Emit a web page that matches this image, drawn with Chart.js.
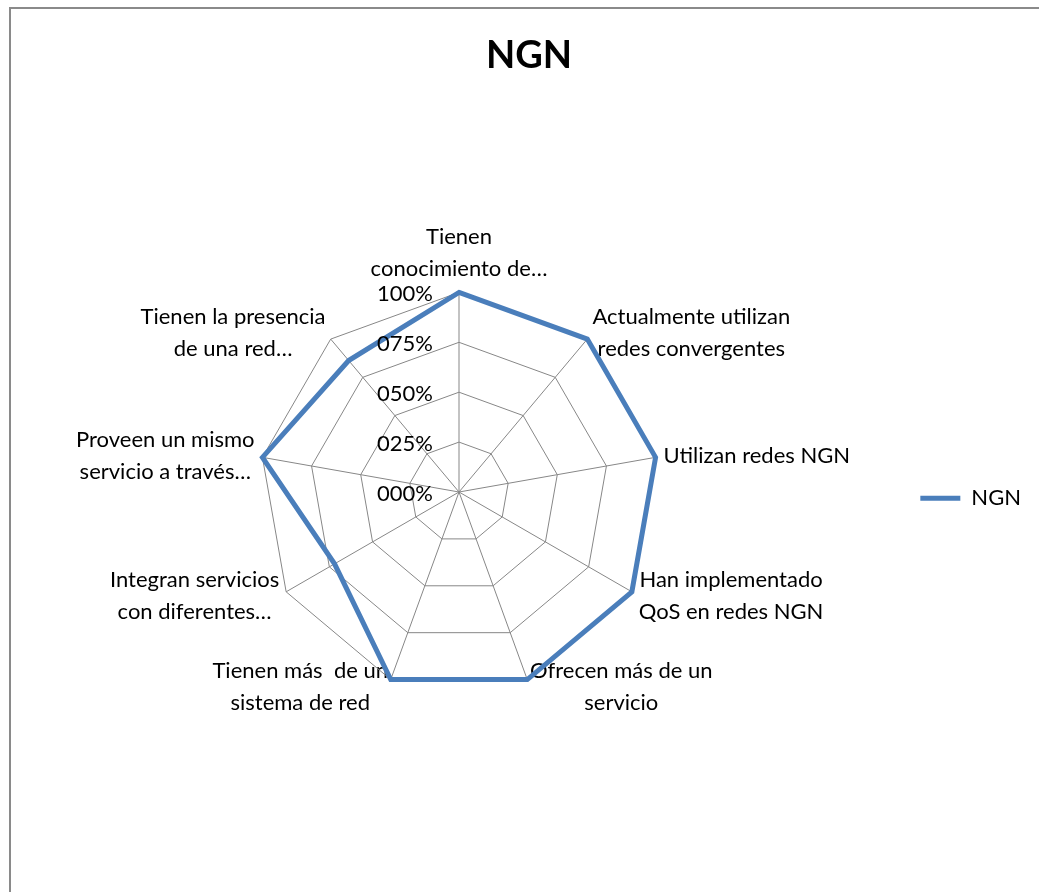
<!DOCTYPE html>
<html>
<head>
<meta charset="utf-8">
<script src="https://cdn.jsdelivr.net/npm/chart.js@4.4.1/dist/chart.umd.min.js"></script>
<style>
    body { margin: 0; background: #fff; overflow: hidden; }
    #frame {
        position: absolute; left: 9px; top: 7px;
        width: 1100px; height: 1000px;
        border: 2px solid #8a8a8a;
    }
    #myChart { position: absolute; left: 0; top: 0; }
</style>
</head>
<body>
<div id="frame"></div>
<canvas id="myChart" width="1039" height="892"></canvas>
<script>
// Chart data
const categories = [
    ['Tienen', 'conocimiento de…'],
    ['Actualmente utilizan', 'redes convergentes'],
    'Utilizan redes NGN',
    ['Han implementado', 'QoS en redes NGN'],
    ['Ofrecen más de un', 'servicio'],
    ['Tienen más  de un', 'sistema de red'],
    ['Integran servicios', 'con diferentes…'],
    ['Proveen un mismo', 'servicio a través…'],
    ['Tienen la presencia', 'de una red…']
];
const ngnValues = [1, 1, 1, 1, 1, 1, 0.72, 1, 0.86];
const tickValues = [0, 0.25, 0.5, 0.75, 1];

const FONT = 'Lato, "Open Sans", sans-serif';

function formatPercent(v) {
    return String(Math.round(v * 100)).padStart(3, '0') + '%';
}

// Tick labels sit to the left of the vertical axis, like the original
const tickLabelPlugin = {
    id: 'tickLabels',
    afterDatasetsDraw(chart) {
        const scale = chart.scales.r;
        const ctx = chart.ctx;
        ctx.save();
        ctx.font = '22px ' + FONT;
        ctx.fillStyle = '#000';
        ctx.textAlign = 'right';
        ctx.textBaseline = 'middle';
        tickValues.forEach(v => {
            const y = scale.yCenter - scale.getDistanceFromCenterForValue(v);
            ctx.fillText(formatPercent(v), scale.xCenter - 26, y + 2);
        });
        ctx.restore();
    }
};

// Side labels: centre the text block vertically on the spoke end, text centred
const labelAlignPlugin = {
    id: 'labelAlign',
    afterUpdate(chart) {
        const scale = chart.scales.r;
        const items = scale._pointLabelItems;
        if (!items) return;
        items.forEach((item, i) => {
            if (i === 0) return;
            const w = item.right - item.left;
            const h = item.bottom - item.top;
            const p = scale.getPointPosition(i, scale.drawingArea);
            const ax = p.x + 8 * Math.cos(p.angle);
            const ay = p.y + 8 * Math.sin(p.angle);
            const left = Math.cos(p.angle) >= 0 ? ax : ax - w;
            item.left = left;
            item.right = left + w;
            item.top = ay - h / 2;
            item.bottom = item.top + h;
            item.x = left + w / 2;
            item.y = item.top;
            item.textAlign = 'center';
        });
    }
};

document.addEventListener('DOMContentLoaded', function () {
    const ctx = document.getElementById('myChart').getContext('2d');
    new Chart(ctx, {
        type: 'radar',
        data: {
            labels: categories,
            datasets: [{
                label: 'NGN',
                data: ngnValues,
                borderColor: '#4a7ebb',
                backgroundColor: '#4a7ebb',
                borderWidth: 5,
                borderCapStyle: 'round',
                pointRadius: 0,
                pointHoverRadius: 0,
                fill: false
            }]
        },
        options: {
            responsive: false,
            animation: false,
            layout: {
                padding: { left: 27, right: 8, top: 0, bottom: 134 }
            },
            plugins: {
                title: {
                    display: true,
                    text: 'NGN',
                    color: '#000',
                    font: { family: FONT, size: 38, weight: 'bold' },
                    padding: { top: 33, bottom: 135 }
                },
                legend: {
                    position: 'right',
                    title: {
                        display: true,
                        text: ' ',
                        font: { size: 12 },
                        padding: { top: 224, bottom: 0 }
                    },
                    labels: {
                        usePointStyle: true,
                        pointStyle: 'line',
                        pointStyleWidth: 40,
                        color: '#000',
                        font: { family: FONT, size: 22 },
                        padding: 21
                    }
                },
                tooltip: { enabled: false }
            },
            scales: {
                r: {
                    min: 0,
                    max: 1,
                    ticks: { stepSize: 0.25, display: false },
                    grid: { color: '#878787', lineWidth: 1 },
                    angleLines: { color: '#878787', lineWidth: 1 },
                    pointLabels: {
                        color: '#000',
                        font: { family: FONT, size: 22, lineHeight: 1.45 },
                        padding: 8
                    }
                }
            }
        },
        plugins: [tickLabelPlugin, labelAlignPlugin]
    });
});
</script>
</body>
</html>
